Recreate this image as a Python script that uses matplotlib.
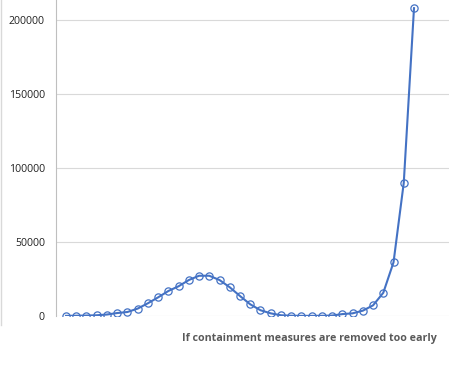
import numpy as np
import matplotlib
matplotlib.use('Agg')
import matplotlib.pyplot as plt
from matplotlib.lines import Line2D

# day index and cases
days = list(range(1, 36))
cases = [100, 200, 300, 500, 1000, 2000, 2700, 5000, 8600, 12600,
         16900, 20100, 24300, 27200, 27200, 24300, 19400, 13500, 7900, 3900,
         1800, 500, 200, 100, 100, 150, 300, 1300, 1800, 3600,
         7200, 15700, 36300, 90000, 208000]
yticks = [0, 50000, 100000, 150000, 200000]
caption = 'If containment measures are removed too early'

plt.rcParams['font.family'] = ['Open Sans', 'DejaVu Sans']

W, H = 449, 366
fig = plt.figure(figsize=(W / 100, H / 100), dpi=100)

# axes: left edge x=56, bottom (0 line) y=316, top of figure y=0
ax = fig.add_axes([56 / W, (H - 316) / H, (W - 56) / W, 316 / H])

ax.plot(days, cases, color='#4472C4', lw=1.5, marker='o', ms=5.2,
        mfc='none', mec='#4472C4', mew=0.9, zorder=3)

# x: day 1 at px 66, day 35 at px 414
ppx = (414 - 66) / 34
ax.set_xlim(1 - 10 / ppx, 35 + (W - 414) / ppx)
# y: 200000 at px 20, 0 at px 316
ppy = (316 - 20) / 200000
ax.set_ylim(0, 316 / ppy)

ax.set_yticks(yticks)
ax.set_yticklabels([str(v) for v in yticks], fontsize=7.6, color='#222222')
ax.tick_params(axis='y', length=0, pad=8)
ax.set_xticks([])
ax.grid(axis='y', color='#D9D9D9', lw=0.8)
ax.set_axisbelow(True)
for s in ['top', 'right', 'bottom']:
    ax.spines[s].set_visible(False)
ax.spines['left'].set_color('#BFBFBF')
ax.spines['left'].set_linewidth(0.8)

# chart border at the left edge
fig.add_artist(Line2D([0.6 / W, 0.6 / W], [1, (H - 325) / H],
                      transform=fig.transFigure, color='#D9D9D9', lw=1))

fig.text(437 / W, (H - 338) / H, caption, ha='right', va='center',
         fontsize=7.7, fontweight='bold', color='#595959')

fig.savefig('out.png', dpi=100)
